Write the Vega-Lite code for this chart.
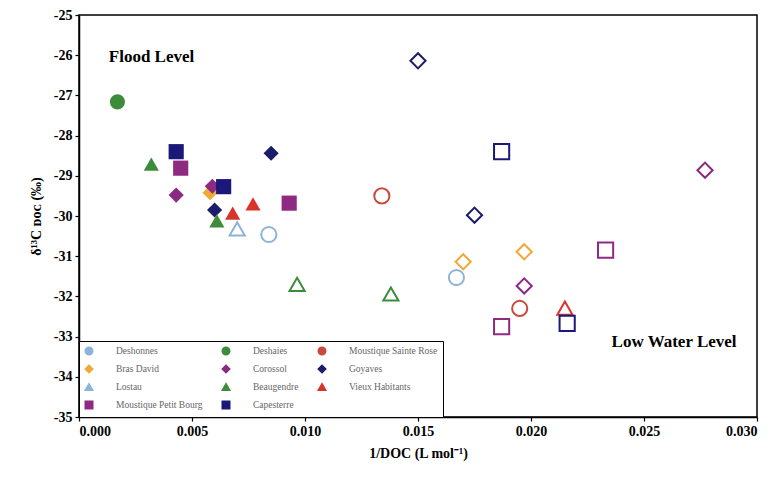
{
  "$schema": "https://vega.github.io/schema/vega-lite/v6.json",
  "width": 678,
  "height": 402,
  "autosize": {"type": "none"},
  "padding": {"left": 79, "top": 15, "right": 23, "bottom": 62},
  "background": "white",
  "data": {
    "values": [
      {"site": "Goyaves", "level": "low", "x": 0.0150, "y": -26.14},
      {"site": "Capesterre", "level": "low", "x": 0.0187, "y": -28.40},
      {"site": "Corossol", "level": "low", "x": 0.0277, "y": -28.86},
      {"site": "Moustique Sainte Rose", "level": "low", "x": 0.0134, "y": -29.50},
      {"site": "Goyaves", "level": "low", "x": 0.0175, "y": -29.98},
      {"site": "Bras David", "level": "low", "x": 0.0197, "y": -30.89},
      {"site": "Moustique Petit Bourg", "level": "low", "x": 0.0233, "y": -30.85},
      {"site": "Bras David", "level": "low", "x": 0.0170, "y": -31.14},
      {"site": "Deshonnes", "level": "low", "x": 0.0167, "y": -31.53},
      {"site": "Beaugendre", "level": "low", "x": 0.0138, "y": -31.94},
      {"site": "Beaugendre", "level": "low", "x": 0.00965, "y": -31.70},
      {"site": "Corossol", "level": "low", "x": 0.0197, "y": -31.74},
      {"site": "Moustique Sainte Rose", "level": "low", "x": 0.0195, "y": -32.30},
      {"site": "Vieux Habitants", "level": "low", "x": 0.0215, "y": -32.29},
      {"site": "Moustique Petit Bourg", "level": "low", "x": 0.0187, "y": -32.75},
      {"site": "Capesterre", "level": "low", "x": 0.0216, "y": -32.67},
      {"site": "Lostau", "level": "low", "x": 0.0070, "y": -30.32},
      {"site": "Deshonnes", "level": "low", "x": 0.0084, "y": -30.46},
      {"site": "Deshaies", "level": "flood", "x": 0.0017, "y": -27.16},
      {"site": "Beaugendre", "level": "flood", "x": 0.0032, "y": -28.71},
      {"site": "Moustique Petit Bourg", "level": "flood", "x": 0.0045, "y": -28.81},
      {"site": "Capesterre", "level": "flood", "x": 0.0043, "y": -28.40},
      {"site": "Goyaves", "level": "flood", "x": 0.0085, "y": -28.44},
      {"site": "Corossol", "level": "flood", "x": 0.0043, "y": -29.48},
      {"site": "Bras David", "level": "flood", "x": 0.0058, "y": -29.42},
      {"site": "Corossol", "level": "flood", "x": 0.0059, "y": -29.26},
      {"site": "Capesterre", "level": "flood", "x": 0.0064, "y": -29.27},
      {"site": "Moustique Petit Bourg", "level": "flood", "x": 0.0093, "y": -29.68},
      {"site": "Vieux Habitants", "level": "flood", "x": 0.0077, "y": -29.70},
      {"site": "Goyaves", "level": "flood", "x": 0.0060, "y": -29.85},
      {"site": "Beaugendre", "level": "flood", "x": 0.0061, "y": -30.12},
      {"site": "Vieux Habitants", "level": "flood", "x": 0.0068, "y": -29.93}
    ]
  },
  "layer": [
    {
      "transform": [{"filter": "datum.level === 'flood'"}],
      "mark": {"type": "point", "filled": true, "size": 230, "opacity": 1},
      "encoding": {
        "x": {"field": "x", "type": "quantitative", "scale": {"domain": [0, 0.03], "nice": false},
          "axis": {"values": [0, 0.005, 0.01, 0.015, 0.02, 0.025, 0.03], "format": ".3f", "title": "1/DOC (L mol⁻¹)", "tickSize": 4, "labelPadding": 3, "titlePadding": 8}},
        "y": {"field": "y", "type": "quantitative", "scale": {"domain": [-35, -25], "nice": false, "zero": false},
          "axis": {"values": [-35, -34, -33, -32, -31, -30, -29, -28, -27, -26, -25], "labelExpr": "'' + datum.value", "title": "δ¹³C ᴅᴏᴄ (‰)", "tickSize": 4, "labelPadding": 3, "titlePadding": 10}},
        "color": {"field": "site", "type": "nominal",
          "scale": {"domain": ["Deshonnes", "Deshaies", "Moustique Sainte Rose", "Bras David", "Corossol", "Goyaves", "Lostau", "Beaugendre", "Vieux Habitants", "Moustique Petit Bourg", "Capesterre"],
            "range": ["#8db3d9", "#3c8c3c", "#c84a3c", "#f0a838", "#8a2a82", "#1c1c6c", "#8db3d9", "#3c8c3c", "#d8342c", "#8e2a80", "#1a1878"]},
          "legend": {"title": null}},
        "shape": {"field": "site", "type": "nominal",
          "scale": {"domain": ["Deshonnes", "Deshaies", "Moustique Sainte Rose", "Bras David", "Corossol", "Goyaves", "Lostau", "Beaugendre", "Vieux Habitants", "Moustique Petit Bourg", "Capesterre"],
            "range": ["circle", "circle", "circle", "diamond", "diamond", "diamond", "triangle-up", "triangle-up", "triangle-up", "square", "square"]},
          "legend": {"title": null}}
      }
    },
    {
      "transform": [{"filter": "datum.level === 'low'"}],
      "mark": {"type": "point", "filled": false, "size": 230, "strokeWidth": 2, "opacity": 1},
      "encoding": {
        "x": {"field": "x", "type": "quantitative"},
        "y": {"field": "y", "type": "quantitative"},
        "color": {"field": "site", "type": "nominal"},
        "shape": {"field": "site", "type": "nominal"}
      }
    },
    {
      "data": {"values": [{}]},
      "mark": {"type": "text", "text": "Flood Level", "font": "Liberation Serif", "fontWeight": "bold", "fontSize": 17, "color": "black", "align": "center", "baseline": "middle"},
      "encoding": {"x": {"datum": 0.00321}, "y": {"datum": -26.04}}
    },
    {
      "data": {"values": [{}]},
      "mark": {"type": "text", "text": "Low Water Level", "font": "Liberation Serif", "fontWeight": "bold", "fontSize": 17, "color": "black", "align": "center", "baseline": "middle"},
      "encoding": {"x": {"datum": 0.02633}, "y": {"datum": -33.13}}
    }
  ],
  "config": {
    "view": {"stroke": "black", "strokeWidth": 1.5},
    "axis": {"grid": false, "domainColor": "black", "domainWidth": 1.5, "tickColor": "black", "tickWidth": 1.2,
      "labelFont": "Liberation Serif", "labelFontWeight": "bold", "labelFontSize": 14, "labelColor": "black",
      "titleFont": "Liberation Serif", "titleFontWeight": "bold", "titleFontSize": 14, "titleColor": "black"},
    "legend": {"orient": "bottom-left", "offset": 0, "columns": 3, "direction": "horizontal",
      "strokeColor": "black", "fillColor": "white", "padding": 5,
      "labelFont": "Liberation Serif", "labelFontSize": 9.5, "labelColor": "#666666",
      "symbolSize": 55, "symbolStrokeWidth": 1.6, "rowPadding": 4, "columnPadding": 16, "labelOffset": 22}
  }
}
